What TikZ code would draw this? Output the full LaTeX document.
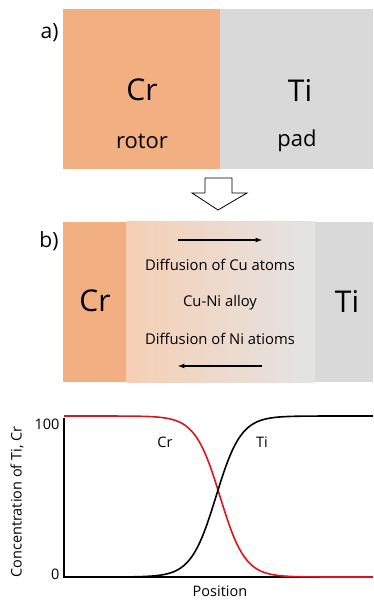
\documentclass[tikz,border=0pt]{standalone}
\usepackage{fontspec}
\setmainfont{Open Sans}
\definecolor{crcol}{RGB}{241,175,130}
\definecolor{ticol}{RGB}{217,217,217}
\definecolor{peach}{RGB}{246,207,181}
\definecolor{lightgray}{RGB}{228,228,228}
\definecolor{crred}{RGB}{220,20,30}
\tikzset{
  bigel/.style={font=\fontsize{30}{36}\selectfont},
  role/.style={font=\fontsize{22}{26}\selectfont},
  panel/.style={font=\fontsize{21}{25}\selectfont},
  diff/.style={font=\fontsize{14.8}{18}\selectfont},
  axlab/.style={font=\fontsize{14.5}{17}\selectfont}
}
\begin{document}
\begin{tikzpicture}[x=1pt,y=-1pt]
\useasboundingbox (0,0) rectangle (373,601);

% a) before contact
\fill[crcol] (63,9) rectangle (220,169);
\fill[ticol] (220,9) rectangle (373,169);
\node[panel,anchor=east] (la) at (62,33) {a)};
\node[bigel] (cra) at (142,90) {Cr};
\node[role] (rotor) at (142,141) {rotor};
\node[bigel] (tia) at (300,90) {Ti};
\node[role] (pad) at (297,141) {pad};

% hollow arrow
\draw[line width=0.8pt,fill=white] (205,178) -- (232,178) -- (232,193) -- (247,193)
  -- (218,210) -- (192,193) -- (205,193) -- cycle;

% b) after diffusion
\fill[crcol] (63,222) rectangle (126,382);
\shade[left color=peach,right color=lightgray] (126,222) rectangle (315,382);
\fill[ticol] (315,222) rectangle (373,382);
\node[panel,anchor=east] (lb) at (62,241) {b)};
\node[bigel] (crb) at (95,301) {Cr};
\node[bigel] (tib) at (347,301) {Ti};
\node[diff] (cu) at (220,265) {Diffusion of Cu atoms};
\node[diff] (alloy) at (220,303) {Cu-Ni alloy};
\node[diff] (ni) at (220,339) {Diffusion of Ni atioms};
\coordinate (cuL) at (178,240);
\coordinate (cuR) at (262,240);
\coordinate (niL) at (178,366);
\coordinate (niR) at (262,366);
\draw[-latex,line width=1.2pt] (cuL) -- (cuR);
\draw[-latex,line width=1.2pt] (niR) -- (niL);

% c) concentration profile
\coordinate (o) at (64,577);
\coordinate (ytop) at (64,418);
\coordinate (xend) at (373,577);
\draw[line width=1.6pt] (ytop) -- (o) -- (xend);
\node[axlab,anchor=east] (t100) at (63,424) {100};
\node[axlab,anchor=east] (t0) at (63,574) {0};
\node[axlab,inner sep=1pt] (xlab) at (220,591) {Position};
\node[axlab,rotate=90] (ylab) at (17,502) {Concentration of Ti, Cr};
\draw[crred,line width=1.6pt] plot[domain=64:373,samples=120,smooth]
  (\x,{416+(577-416)*(1+tanh((\x-220)/25))/2});
\draw[black,line width=1.6pt] plot[domain=64:373,samples=120,smooth]
  (\x,{577-(577-416)*(1+tanh((\x-216)/25))/2});
\node[axlab] (crl) at (165,442) {Cr};
\node[axlab] (til) at (262,442) {Ti};
\end{tikzpicture}
\end{document}
